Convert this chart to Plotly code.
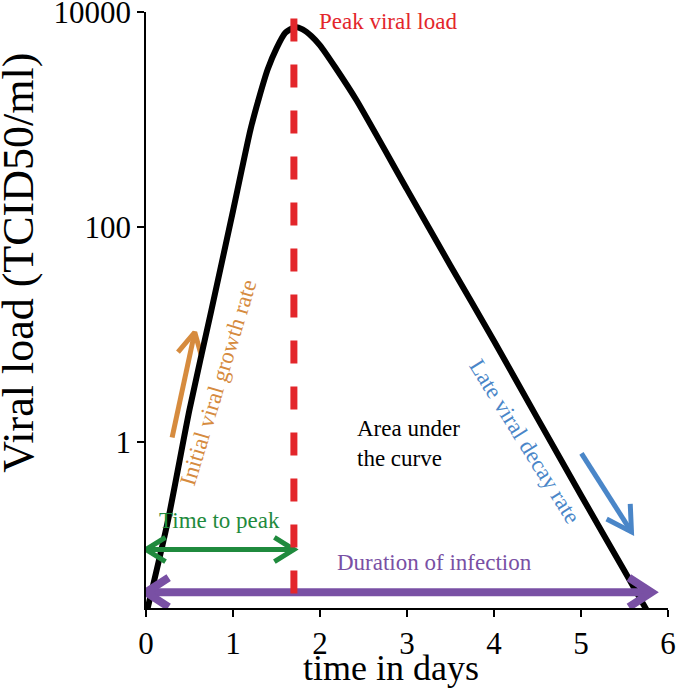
import math
import plotly.graph_objects as go

# ---------------- data ----------------
days = [0.0, 0.25, 0.5, 0.75, 1.0, 1.1, 1.2, 1.3, 1.4, 1.5, 1.6, 1.714,
        1.8, 1.9, 2.0, 2.173, 2.42, 3.0, 3.5, 4.0, 4.5, 5.0, 5.5, 5.85]
viral_load = [0.0245, 0.182, 2.0, 16.6, 141, 340, 800, 1600, 2950, 4600, 6400, 7240,
              6900, 6000, 4900, 3080, 1510, 224, 43.7, 8.7, 1.66, 0.32, 0.063, 0.02]

peak_day = 1.70
peak_line_top = 8700

y_tick_vals = [1, 100, 10000]
y_tick_text = ["1", "100", "10000"]
x_tick_vals = [0, 1, 2, 3, 4, 5, 6]

# arrows (data coordinates)
growth_arrow = dict(tail=(0.30, 1.1), tip=(0.56, 10.5))
decay_arrow = dict(tail=(5.005, 0.785), tip=(5.58, 0.146))
time_to_peak_arrow = dict(start=(0.0, 0.1), end=(1.70, 0.1))
duration_arrow = dict(start=(0.0, 0.04), end=(5.81, 0.04))

# ---------------- layout constants ----------------
W, H = 677, 688
ML, MR, MT, MB = 146, 9, 12, 80
PW, PH = W - ML - MR, H - MT - MB
XR = (0.0, 6.0)
YR = (-1.544, 4.0)
FONT = "Liberation Serif, Times New Roman, serif"

RED = "#e3262b"
ORANGE = "#d68b3e"
GREEN = "#1f8a3d"
PURPLE = "#7950a4"
BLUE = "#4a86c8"


def to_px(x, y):
    px = (x - XR[0]) / (XR[1] - XR[0]) * PW
    py = (YR[1] - math.log10(y)) / (YR[1] - YR[0]) * PH
    return px, py


def from_px(px, py):
    x = XR[0] + px / PW * (XR[1] - XR[0])
    y = 10 ** (YR[1] - py / PH * (YR[1] - YR[0]))
    return x, y


def chevron(tip, toward, length, half_angle_deg):
    tx, ty = to_px(*tip)
    ox, oy = to_px(*toward)
    dx, dy = ox - tx, oy - ty
    n = math.hypot(dx, dy)
    ux, uy = dx / n, dy / n
    pts = []
    for s in (1, -1):
        a = math.radians(half_angle_deg) * s
        rx = ux * math.cos(a) - uy * math.sin(a)
        ry = ux * math.sin(a) + uy * math.cos(a)
        pts.append(from_px(tx + rx * length, ty + ry * length))
    xs = [pts[0][0], tip[0], pts[1][0]]
    ys = [pts[0][1], tip[1], pts[1][1]]
    return xs, ys


def arrow_trace(a, b, color, width, length, angle, double=False):
    xs = [a[0], b[0], None]
    ys = [a[1], b[1], None]
    cx, cy = chevron(b, a, length, angle)
    xs += cx + [None]
    ys += cy + [None]
    if double:
        cx, cy = chevron(a, b, length, angle)
        xs += cx
        ys += cy
    return go.Scatter(x=xs, y=ys, mode="lines", hoverinfo="skip",
                      line=dict(color=color, width=width), showlegend=False)


fig = go.Figure()

fig.add_trace(arrow_trace(growth_arrow["tail"], growth_arrow["tip"], ORANGE, 5, 26, 28))
fig.add_trace(arrow_trace(decay_arrow["tail"], decay_arrow["tip"], BLUE, 5, 28, 30))

fig.add_trace(go.Scatter(x=days, y=viral_load, mode="lines", showlegend=False,
                         line=dict(color="black", width=6, shape="spline", smoothing=0.6)))

fig.add_trace(arrow_trace(time_to_peak_arrow["start"], time_to_peak_arrow["end"],
                          GREEN, 5, 23, 32, double=True))
fig.add_trace(arrow_trace(duration_arrow["start"], duration_arrow["end"],
                          PURPLE, 8, 27, 33, double=True))

fig.add_trace(go.Scatter(x=[peak_day, peak_day], y=[peak_line_top, 10 ** YR[0]],
                         mode="lines", showlegend=False,
                         line=dict(color=RED, width=7, dash="23px,23px")))

ann_font = dict(family=FONT, size=23)
annotations = [
    dict(x=1.963, y=3.913, text="Peak viral load", xanchor="left", yanchor="middle",
         font=dict(ann_font, color=RED)),
    dict(x=0.842, y=math.log10(0.187), text="Time to peak", xanchor="center", yanchor="middle",
         font=dict(ann_font, color=GREEN)),
    dict(x=3.32, y=math.log10(0.0765), text="Duration of infection", xanchor="center",
         yanchor="middle", font=dict(ann_font, color=PURPLE)),
    dict(x=2.403, y=math.log10(0.966), text="Area under<br>the curve", xanchor="left",
         yanchor="middle", align="left", font=dict(ann_font, color="black")),
    dict(x=0.83, y=math.log10(3.59), text="Initial viral growth rate", textangle=-73,
         xanchor="center", yanchor="middle", font=dict(ann_font, color=ORANGE)),
    dict(x=4.356, y=math.log10(1.02), text="Late viral decay rate", textangle=58,
         xanchor="center", yanchor="middle", font=dict(ann_font, color=BLUE)),
    dict(x=-0.2435, y=0.579, xref="paper", yref="paper", text="Viral load (TCID50/ml)",
         textangle=-90, xanchor="center", yanchor="middle",
         font=dict(family=FONT, size=44, color="black")),
    dict(x=0.469, y=-0.1, xref="paper", yref="paper", text="time in days",
         xanchor="center", yanchor="middle", font=dict(family=FONT, size=36, color="black")),
]
for a in annotations:
    a.setdefault("xref", "x")
    a.setdefault("yref", "y")
    a["showarrow"] = False

fig.update_layout(
    width=W, height=H,
    margin=dict(l=ML, r=MR, t=MT, b=MB, autoexpand=False),
    paper_bgcolor="white", plot_bgcolor="white",
    annotations=annotations,
    showlegend=False,
)
fig.update_xaxes(range=list(XR), tickvals=x_tick_vals, showgrid=False, zeroline=False,
                 automargin=False, ticklabeloverflow="allow",
                 showline=True, linecolor="black", linewidth=1.5,
                 ticks="outside", ticklen=7, tickwidth=1.5, tickcolor="black",
                 tickfont=dict(family=FONT, size=31, color="black"))
fig.update_yaxes(type="log", range=[YR[0], YR[1] + 0.0005], tickvals=y_tick_vals,
                 ticktext=y_tick_text, automargin=False, ticklabeloverflow="allow",
                 showgrid=False, zeroline=False,
                 showline=True, linecolor="black", linewidth=1.5,
                 ticks="outside", ticklen=7, tickwidth=1.5, tickcolor="black",
                 tickfont=dict(family=FONT, size=31, color="black"))

fig.write_html("out.html", config={"displayModeBar": False},
               post_script="document.body.style.margin='0';document.body.style.padding='0';")
